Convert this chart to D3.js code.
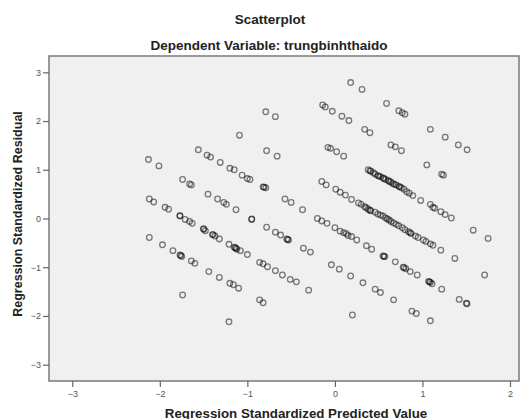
<!DOCTYPE html>
<html><head><meta charset="utf-8">
<script src="https://cdn.jsdelivr.net/npm/d3@7"></script>
<style>
html,body{margin:0;padding:0;background:#fff;}
svg{display:block;font-family:Arial,"Liberation Sans",sans-serif;}
</style></head>
<body>
<svg id="chart" width="521" height="419"></svg>
<script>
const title = "Scatterplot";
const subtitle = "Dependent Variable: trungbinhthaido";
const xLabel = "Regression Standardized Predicted Value";
const yLabel = "Regression Standardized Residual";
const xTicks = [-3, -2, -1, 0, 1, 2];
const yTicks = [-3, -2, -1, 0, 1, 2, 3];

// predicted (x) values
const predicted = [
-2.13,-2.01,-1.56,-1.46,-1.42,-1.31,-1.20,-1.15,-1.06,-1.00,-0.97,-0.82,-0.79,-0.57,-0.50,-0.37,
-1.09,-0.79,-0.68,-0.78,-0.66,
-1.74,-1.66,-1.64,-1.45,-1.34,-1.27,-1.24,-1.13,-0.95,-0.78,-0.68,-0.62,-0.55,-0.53,-0.36,-0.28,
-2.12,-2.07,-1.94,-1.90,-1.77,-1.71,-1.66,-1.63,-1.50,-1.48,-1.40,-1.37,-1.32,-1.21,-1.15,-1.12,-1.08,-1.00,
-0.86,-0.82,-0.77,-0.68,-0.60,-0.51,-0.44,-0.30,
-2.12,-1.97,-1.85,-1.77,-1.75,-1.64,-1.60,-1.44,-1.32,-1.20,-1.16,-1.10,-0.86,-0.82,
-1.74,-1.21,
-1.77,-1.50,-1.39,-1.14,-1.13,-0.95,-0.54,-1.76,-0.81,
0.18,0.31,-0.14,-0.11,-0.03,0.08,0.16,0.34,0.40,0.59,0.73,0.77,0.80,1.09,1.26,1.41,1.51,
-0.08,-0.05,0.02,0.10,0.64,0.69,0.76,1.05,1.22,1.24,
0.38,0.41,0.44,0.46,0.49,0.52,0.55,0.58,0.61,0.64,0.66,0.70,0.73,0.76,0.79,0.82,0.85,0.89,
0.98,1.09,1.12,1.14,1.21,1.26,1.33,1.58,1.75,
-0.15,-0.10,0.01,0.06,0.12,0.19,0.27,0.30,0.34,0.38,0.41,0.46,0.49,0.55,0.58,0.62,0.67,0.70,0.73,0.77,
0.80,0.84,0.87,0.92,0.95,1.01,1.04,1.09,1.12,1.21,1.37,1.71,
-0.20,-0.15,-0.09,0.00,0.06,0.10,0.13,0.15,0.19,0.25,0.36,0.42,0.55,0.57,0.69,0.79,0.81,0.86,0.94,1.07,
1.09,1.11,1.22,1.42,1.51,
-0.04,0.05,0.18,0.32,0.46,0.52,0.67,0.88,0.93,1.09,0.20,
0.40,0.50,0.56,0.62,0.68,0.74,0.36,0.40,0.52,0.60,0.64,0.86,0.78,1.08,1.50,0.56
];

// residual (y) values
const residual = [
1.21,1.08,1.41,1.30,1.26,1.15,1.03,1.00,0.89,0.82,0.80,0.65,0.63,0.40,0.33,0.18,
1.71,2.19,2.09,1.39,1.28,
0.80,0.71,0.69,0.50,0.40,0.33,0.29,0.18,-0.01,-0.18,-0.28,-0.34,-0.42,-0.44,-0.61,-0.69,
0.40,0.34,0.23,0.19,0.05,-0.02,-0.06,-0.10,-0.22,-0.25,-0.33,-0.36,-0.42,-0.53,-0.59,-0.63,-0.66,-0.74,
-0.90,-0.93,-0.99,-1.07,-1.16,-1.25,-1.30,-1.47,
-0.39,-0.54,-0.66,-0.75,-0.78,-0.87,-0.92,-1.09,-1.21,-1.33,-1.36,-1.43,-1.67,-1.73,
-1.57,-2.12,
0.06,-0.21,-0.33,-0.60,-0.61,-0.02,-0.43,-0.76,0.64,
2.79,2.65,2.33,2.29,2.20,2.10,2.01,1.83,1.76,2.36,2.21,2.17,2.14,1.83,1.67,1.51,1.41,
1.46,1.44,1.37,1.28,1.51,1.47,1.39,1.10,0.91,0.89,
1.00,0.97,0.94,0.91,0.88,0.86,0.83,0.80,0.78,0.75,0.72,0.69,0.66,0.63,0.60,0.55,0.52,0.47,
0.37,0.29,0.23,0.21,0.14,0.08,0.01,-0.24,-0.41,
0.76,0.69,0.60,0.54,0.48,0.39,0.32,0.29,0.24,0.19,0.16,0.13,0.09,0.05,0.01,-0.03,-0.09,-0.12,-0.15,-0.19,
-0.23,-0.27,-0.31,-0.36,-0.39,-0.44,-0.47,-0.52,-0.55,-0.65,-0.82,-1.16,
0.00,-0.05,-0.10,-0.19,-0.26,-0.29,-0.31,-0.35,-0.37,-0.44,-0.56,-0.63,-0.77,-0.78,-0.89,-1.01,-1.03,-1.09,-1.16,-1.29,
-1.31,-1.34,-1.45,-1.66,-1.75,
-0.95,-1.04,-1.18,-1.32,-1.45,-1.52,-1.67,-1.90,-1.95,-2.10,-1.98,
0.98,0.87,0.82,0.76,0.70,0.65,0.22,0.17,0.07,-0.01,-0.06,-0.29,-1.00,-1.30,-1.74,-0.78
];

(function () {
const svg = d3.select("#chart");
const pl = 49, pr = 519, pt = 56, pb = 381;

const x = d3.scaleLinear().domain([-3.266, 2.103]).range([pl, pr]);
const y = d3.scaleLinear().domain([-3.335, 3.335]).range([pb, pt]);

svg.append("rect").attr("x", pl).attr("y", pt)
  .attr("width", pr - pl).attr("height", pb - pt)
  .attr("fill", "#f0f0f0").attr("stroke", "none");

const pts = predicted.map((p, i) => ({x: p, y: residual[i]}));
svg.append("g").selectAll("circle").data(pts).join("circle")
  .attr("cx", d => x(d.x)).attr("cy", d => y(d.y)).attr("r", 2.8)
  .attr("fill", "none").attr("stroke", "#000").attr("stroke-opacity", 0.5)
  .attr("stroke-width", 1.3);

svg.append("rect").attr("x", pl).attr("y", pt)
  .attr("width", pr - pl).attr("height", pb - pt)
  .attr("fill", "none").attr("stroke", "#7a7a7a").attr("stroke-width", 1.5);

const xAxis = svg.append("g").attr("transform", `translate(0,${pb})`)
  .call(d3.axisBottom(x).tickValues(xTicks).tickFormat(d3.format("d")).tickSize(6).tickPadding(4));
const yAxis = svg.append("g").attr("transform", `translate(${pl},0)`)
  .call(d3.axisLeft(y).tickValues(yTicks).tickFormat(d3.format("d")).tickSize(6).tickPadding(2));
[xAxis, yAxis].forEach(a => {
  a.select(".domain").remove();
  a.selectAll(".tick line").attr("stroke", "#666").attr("stroke-width", 1.2);
  a.selectAll(".tick text").attr("fill", "#555").attr("font-size", 9)
    .attr("font-family", "Arial, 'Liberation Sans', sans-serif");
});

svg.append("text").attr("x", 270).attr("y", 24).attr("text-anchor", "middle")
  .attr("font-size", 13.5).attr("font-weight", "bold").attr("fill", "#222").text(title);
svg.append("text").attr("x", 269).attr("y", 50).attr("text-anchor", "middle")
  .attr("font-size", 13.5).attr("font-weight", "bold").attr("fill", "#222").text(subtitle);
svg.append("text").attr("x", 296).attr("y", 417.5).attr("text-anchor", "middle")
  .attr("font-size", 13.3).attr("font-weight", "bold").attr("fill", "#222").text(xLabel);
svg.append("text").attr("transform", "translate(22,214) rotate(-90)").attr("text-anchor", "middle")
  .attr("font-size", 12.5).attr("font-weight", "bold").attr("fill", "#222").text(yLabel);
})();
</script>
</body></html>
